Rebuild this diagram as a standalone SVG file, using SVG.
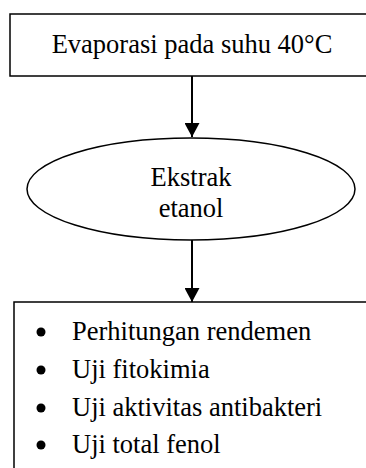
<svg xmlns="http://www.w3.org/2000/svg" width="366" height="468" viewBox="0 0 366 468">
<defs>
<style>
.box{fill:#fff;stroke:#000;stroke-width:1.5}
.t{font-family:"Liberation Serif","Times New Roman",serif;font-size:26.5px;fill:#000}
.c{stroke:#000;stroke-width:2;fill:none}
</style>
<marker id="ah" viewBox="0 0 14 15" refX="14" refY="7.5" markerWidth="14" markerHeight="15" markerUnits="userSpaceOnUse" orient="auto">
<path d="M0,0 L14,7.5 L0,15 Z" fill="#000"/>
</marker>
</defs>
<rect width="366" height="468" fill="#fff"/>
<g id="evaporasi">
<rect class="box" x="10" y="14" width="366" height="62"/>
<text class="t" x="192" y="53" text-anchor="middle">Evaporasi pada suhu 40°C</text>
</g>
<g id="ekstrak">
<ellipse class="box" cx="191" cy="189" rx="164" ry="51"/>
<text class="t" x="191" y="186" text-anchor="middle">Ekstrak</text>
<text class="t" x="191" y="217" text-anchor="middle">etanol</text>
</g>
<g id="uji">
<rect class="box" x="14" y="302" width="370" height="180"/>
<circle cx="41" cy="332" r="4.5"/>
<circle cx="41" cy="370" r="4.5"/>
<circle cx="41" cy="408" r="4.5"/>
<circle cx="41" cy="445" r="4.5"/>
<text class="t" x="72" y="340">Perhitungan rendemen</text>
<text class="t" x="72" y="378">Uji fitokimia</text>
<text class="t" x="72" y="416">Uji aktivitas antibakteri</text>
<text class="t" x="72" y="453">Uji total fenol</text>
</g>
<g id="connectors">
<line class="c" x1="192" y1="76" x2="192" y2="137" marker-end="url(#ah)"/>
<line class="c" x1="192" y1="240" x2="192" y2="302" marker-end="url(#ah)"/>
</g>
</svg>
